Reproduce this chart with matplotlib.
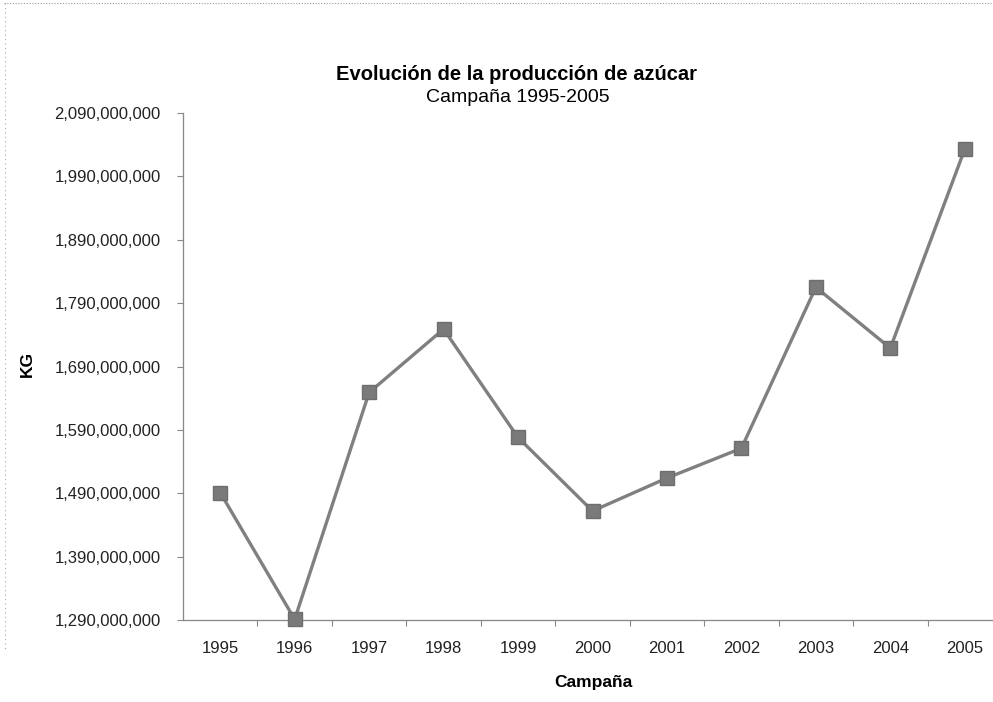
import matplotlib
matplotlib.use("Agg")
import matplotlib.pyplot as plt
from matplotlib.lines import Line2D
from matplotlib.ticker import FuncFormatter, FixedLocator

years = ["1995", "1996", "1997", "1998", "1999", "2000", "2001", "2002", "2003", "2004", "2005"]
produccion_kg = [1491e6, 1291e6, 1649e6, 1749e6, 1578e6, 1462e6, 1514e6, 1561e6, 1815e6, 1719e6, 2033e6]
y_ticks = [1290e6, 1390e6, 1490e6, 1590e6, 1690e6, 1790e6, 1890e6, 1990e6, 2090e6]

plt.rcParams['font.family'] = ['Liberation Sans', 'DejaVu Sans']

W, H = 993, 702
fig = plt.figure(figsize=(W / 100, H / 100), dpi=100)
fig.patch.set_facecolor('white')

left, right, top, bottom = 183, 1002, 113, 620
ax = fig.add_axes([left / W, 1 - bottom / H, (right - left) / W, (bottom - top) / H])

x = list(range(len(years)))
ax.plot(x, produccion_kg, color='#808080', lw=2.4, marker='s', markersize=10,
        markerfacecolor='#7a7a7a', markeredgecolor='#6e6e6e', clip_on=False, zorder=3)

ax.set_xlim(-0.5, len(years) - 0.5)
ax.set_ylim(y_ticks[0], y_ticks[-1])
ax.yaxis.set_major_locator(FixedLocator(y_ticks))
ax.yaxis.set_major_formatter(FuncFormatter(lambda v, p: f"{v:,.0f}"))

ax.set_xticks(x)
ax.set_xticklabels(years)
ax.set_xticks([i + 0.5 for i in range(len(years) - 1)], minor=True)
ax.tick_params(axis='x', which='major', length=0, pad=15, labelsize=12, colors='#222222')
ax.tick_params(axis='x', which='minor', length=4, width=0.8, color='#888888', direction='out')
ax.tick_params(axis='y', which='major', length=4, width=0.8, color='#888888', direction='out',
               pad=12, labelsize=12, labelcolor='#222222')

for s in ['top', 'right']:
    ax.spines[s].set_visible(False)
for s in ['left', 'bottom']:
    ax.spines[s].set_color('#8a8a8a')
    ax.spines[s].set_linewidth(0.9)
    ax.spines[s].set_linestyle((0, (1, 0.6)))

fig.text(27 / W, 1 - 364 / H, "KG", rotation=90, fontsize=12.5, fontweight='bold',
         ha='center', va='center')
fig.text(593 / W, 1 - 682 / H, "Campaña", fontsize=12.5, fontweight='bold',
         ha='center', va='center')

fig.text(516 / W, 1 - 74 / H, "Evolución de la producción de azúcar", fontsize=14.5,
         fontweight='bold', ha='center', va='center')
fig.text(518 / W, 1 - 97 / H, "Campaña 1995-2005", fontsize=14,
         ha='center', va='center')

# scanned page border (dotted)
fig.add_artist(Line2D([4 / W, 1], [1 - 3 / H, 1 - 3 / H], transform=fig.transFigure,
                      color='#999999', lw=0.8, ls=(0, (1, 1.5))))
fig.add_artist(Line2D([5 / W, 5 / W], [1 - 3 / H, 1 - 650 / H], transform=fig.transFigure,
                      color='#aaaaaa', lw=0.8, ls=(0, (1, 3))))

fig.savefig("out.png", dpi=100, facecolor='white')
